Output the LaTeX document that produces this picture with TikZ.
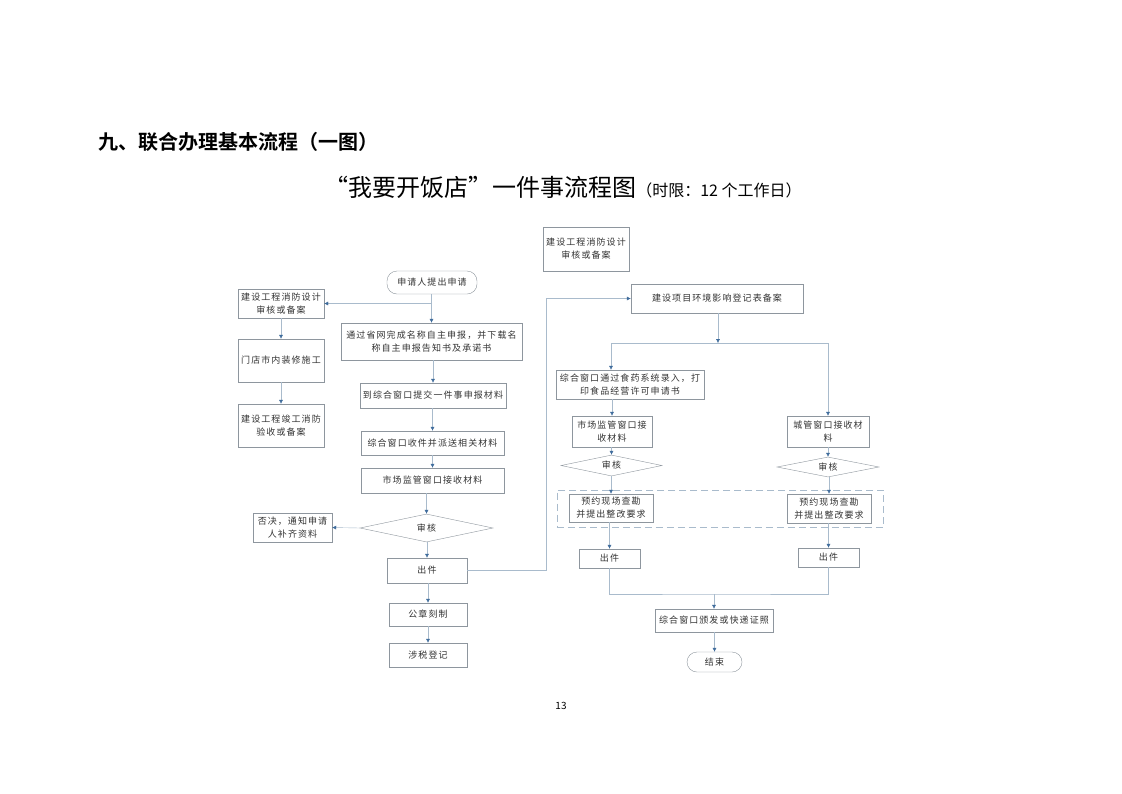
\documentclass[tikz,border=0pt]{standalone}
\usepackage{fontspec}
\usetikzlibrary{shapes,arrows.meta,calc,fit}

\newfontfamily\boxfont[LetterSpace=12]{Noto Sans CJK SC}
\newfontfamily\titlefont{Noto Sans CJK SC}
\newfontfamily\headfont{Noto Sans CJK SC Bold}

\definecolor{boxgray}{HTML}{8E969E}
\definecolor{linegray}{HTML}{A9BBCC}
\definecolor{arrowblue}{HTML}{3F6C9C}
\definecolor{textgray}{HTML}{333333}

\begin{document}
\begin{tikzpicture}[x=1pt,y=-1pt,
	box/.style={draw=boxgray, fill=white, align=center, inner sep=1pt,
		font=\boxfont\fontsize{9}{13}\selectfont, text=textgray},
	term/.style={box, rounded corners=10pt},
	check/.style={box, diamond, inner sep=0pt},
	arr/.style={draw=linegray, -{Latex[length=4pt,width=4pt,color=arrowblue]}},
	conn/.style={draw=linegray},
	dashbox/.style={draw=linegray, dash pattern=on 7pt off 4pt}]
	\useasboundingbox[fill=white] (0,0) rectangle (1122,793);

	% titles
	\node[anchor=west, font=\headfont\fontsize{20}{24}\selectfont] (heading) at (95,142) {九、联合办理基本流程（一图）};
	\node[anchor=base, font=\titlefont\fontsize{24}{28}\selectfont] (title) at (563,196)
		{“我要开饭店”一件事流程图{\fontsize{16}{20}\selectfont（时限：12 个工作日）}};
	\node[font=\titlefont\fontsize{10}{12}\selectfont] (page) at (561,706) {13};

	% left column
	\node[term, minimum width=90, minimum height=23] (start) at (432,282.5) {申请人提出申请};
	\node[box, minimum width=86, minimum height=29] (fireA) at (281,303.5) {建设工程消防设计\\审核或备案};
	\node[box, minimum width=86, minimum height=43] (decor) at (281,360.5) {门店市内装修施工};
	\node[box, minimum width=86, minimum height=43] (fireB) at (281,425.5) {建设工程竣工消防\\验收或备案};
	\node[box, minimum width=181, minimum height=37] (online) at (431.5,341.5) {通过省网完成名称自主申报，并下载名\\称自主申报告知书及承诺书};
	\node[box, minimum width=146, minimum height=25] (submit) at (433,395.5) {到综合窗口提交一件事申报材料};
	\node[box, minimum width=143, minimum height=24] (receive) at (432.5,443) {综合窗口收件并派送相关材料};
	\node[box, minimum width=143, minimum height=25] (market) at (432.5,480.5) {市场监管窗口接收材料};
	\node[check, minimum width=133, minimum height=28, aspect=4.75] (review) at (426.5,528) {审核};
	\node[box, minimum width=79, minimum height=29] (reject) at (292.5,527.5) {否决，通知申请\\人补齐资料};
	\node[box, minimum width=80, minimum height=25] (issue) at (427,570.5) {出件};
	\node[box, minimum width=78, minimum height=23] (seal) at (428,614.5) {公章刻制};
	\node[box, minimum width=78, minimum height=24] (tax) at (428,655) {涉税登记};

	% right column
	\node[box, minimum width=86, minimum height=44] (fireC) at (586,249) {建设工程消防设计\\审核或备案};
	\node[box, minimum width=172, minimum height=29] (env) at (717,298.5) {建设项目环境影响登记表备案};
	\node[box, minimum width=148, minimum height=29] (food) at (630,384.5) {综合窗口通过食药系统录入，打\\印食品经营许可申请书};
	\node[box, minimum width=80, minimum height=31] (marketR) at (612,431.5) {市场监管窗口接\\收材料};
	\node[box, minimum width=82, minimum height=31] (city) at (828,431.5) {城管窗口接收材\\料};
	\node[check, minimum width=101, minimum height=21, aspect=4.8] (reviewL) at (611.5,465.5) {审核};
	\node[check, minimum width=102, minimum height=20, aspect=5.1] (reviewR) at (828,467) {审核};
	\node[box, minimum width=84, minimum height=28] (visitL) at (611,508) {预约现场查勘\\并提出整改要求};
	\node[box, minimum width=84, minimum height=29] (visitR) at (829,508.5) {预约现场查勘\\并提出整改要求};
	\node[dashbox, fit=(visitL)(visitR), inner xsep=12pt, inner ysep=4pt] (onsite) {};
	\node[box, minimum width=61, minimum height=19] (issueL) at (609.5,558.5) {出件};
	\node[box, minimum width=61, minimum height=19] (issueR) at (828.5,557.5) {出件};
	\node[box, minimum width=118, minimum height=23] (deliver) at (714,620.5) {综合窗口颁发或快递证照};
	\node[term, minimum width=55, minimum height=20] (finish) at (714.5,662) {结束};

	% connectors
	\foreach \a/\b in {start/online, online/submit, submit/receive, receive/market,
		market/review, review/issue, issue/seal, seal/tax, fireA/decor, decor/fireB,
		food/marketR, marketR/reviewL, reviewL/visitL, visitL/issueL,
		city/reviewR, reviewR/visitR, visitR/issueR, deliver/finish}
	{
		\draw[arr] (\a.south -| \b.north) -- (\b.north);
	}
	\coordinate (split) at (start.south |- fireA.east);
	\draw[arr] (split) -- (fireA.east);
	\draw[arr] (review.west) -- (reject.east);

	\coordinate (riser) at (546,0);
	\draw[arr] (issue.east) -- (issue.east -| riser) |- (env.west);

	\coordinate (fork) at (718,343);
	\coordinate (forkL) at (611,343);
	\coordinate (forkR) at (828,343);
	\draw[arr] (env.south -| fork) -- (fork);
	\draw[conn] (forkL) -- (forkR);
	\draw[arr] (forkL) -- (forkL |- food.north);
	\draw[arr] (forkR) -- (city.north);

	\coordinate (join) at (714,594);
	\draw[conn] (issueL.south) |- (join) -| (issueR.south);
	\draw[arr] (join) -- (deliver.north);
\end{tikzpicture}
\end{document}
